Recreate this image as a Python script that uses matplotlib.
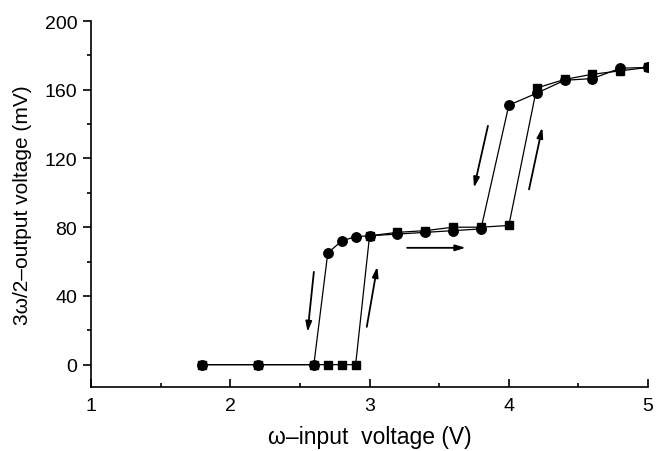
import matplotlib
matplotlib.use("Agg")
import matplotlib.pyplot as plt
from matplotlib.ticker import MultipleLocator

plt.rcParams['font.family'] = ['Liberation Sans', 'DejaVu Sans']

# Increasing sweep (squares)
up_x = [1.8, 2.2, 2.6, 2.7, 2.8, 2.9, 3.0, 3.2, 3.4, 3.6, 3.8, 4.0, 4.2, 4.4, 4.6, 4.8, 5.0]
up_y = [0, 0, 0, 0, 0, 0, 75, 77, 78, 80, 80, 81, 161, 166, 169, 171, 173]

# Decreasing sweep (circles)
down_x = [5.0, 4.8, 4.6, 4.4, 4.2, 4.0, 3.8, 3.6, 3.4, 3.2, 3.0, 2.9, 2.8, 2.7, 2.6, 2.2, 1.8]
down_y = [173, 172.5, 166.5, 165.5, 158, 151, 79, 78, 77, 76, 75, 74.5, 72, 65, 0, 0, 0]

# Direction arrows: (x_start, y_start, x_end, y_end)
arrows = [
    (2.60, 54, 2.555, 19),
    (2.98, 22, 3.055, 57),
    (3.27, 68, 3.69, 68),
    (3.85, 139, 3.75, 103),
    (4.145, 102, 4.24, 138),
]

xticks = [1, 2, 3, 4, 5]
yticks = [0, 40, 80, 120, 160, 200]

fig = plt.figure(figsize=(6.62, 4.52), dpi=100)
ax = fig.add_axes([0.1375, 0.1416, 0.979 - 0.1375, 0.9513 - 0.1416])

ax.plot(down_x, down_y, color='black', lw=0.9, marker='o', ms=6.8, mfc='black', mec='black', zorder=2)
ax.plot(up_x, up_y, color='black', lw=0.9, marker='s', ms=6.4, mfc='black', mec='black', zorder=3)

for (x0, y0, x1, y1) in arrows:
    ax.annotate('', xy=(x1, y1), xytext=(x0, y0),
                arrowprops=dict(arrowstyle='-|>,head_length=0.6,head_width=0.18',
                                color='black', lw=1.3, shrinkA=0, shrinkB=0))

ax.set_xlim(1, 5)
ax.set_ylim(-13, 200)
ax.set_xticks(xticks)
ax.set_yticks(yticks)
ax.xaxis.set_minor_locator(MultipleLocator(0.5))
ax.yaxis.set_minor_locator(MultipleLocator(20))

for s in ['top', 'right']:
    ax.spines[s].set_visible(False)
for s in ['left', 'bottom']:
    ax.spines[s].set_linewidth(1.2)

ax.tick_params(axis='both', which='major', labelsize=14, width=1.2, length=6, direction='out')
ax.tick_params(axis='both', which='minor', width=1.2, length=3, direction='out')
ax.tick_params(axis='x', which='both', direction='in')
ax.tick_params(axis='x', pad=7)
ax.tick_params(axis='y', pad=4)

ax.set_xlabel('ω–input  voltage (V)', fontsize=16.5, labelpad=8)
ax.set_ylabel('3ω/2–output voltage (mV)', fontsize=15, labelpad=9)

fig.savefig('out.png', dpi=100)
